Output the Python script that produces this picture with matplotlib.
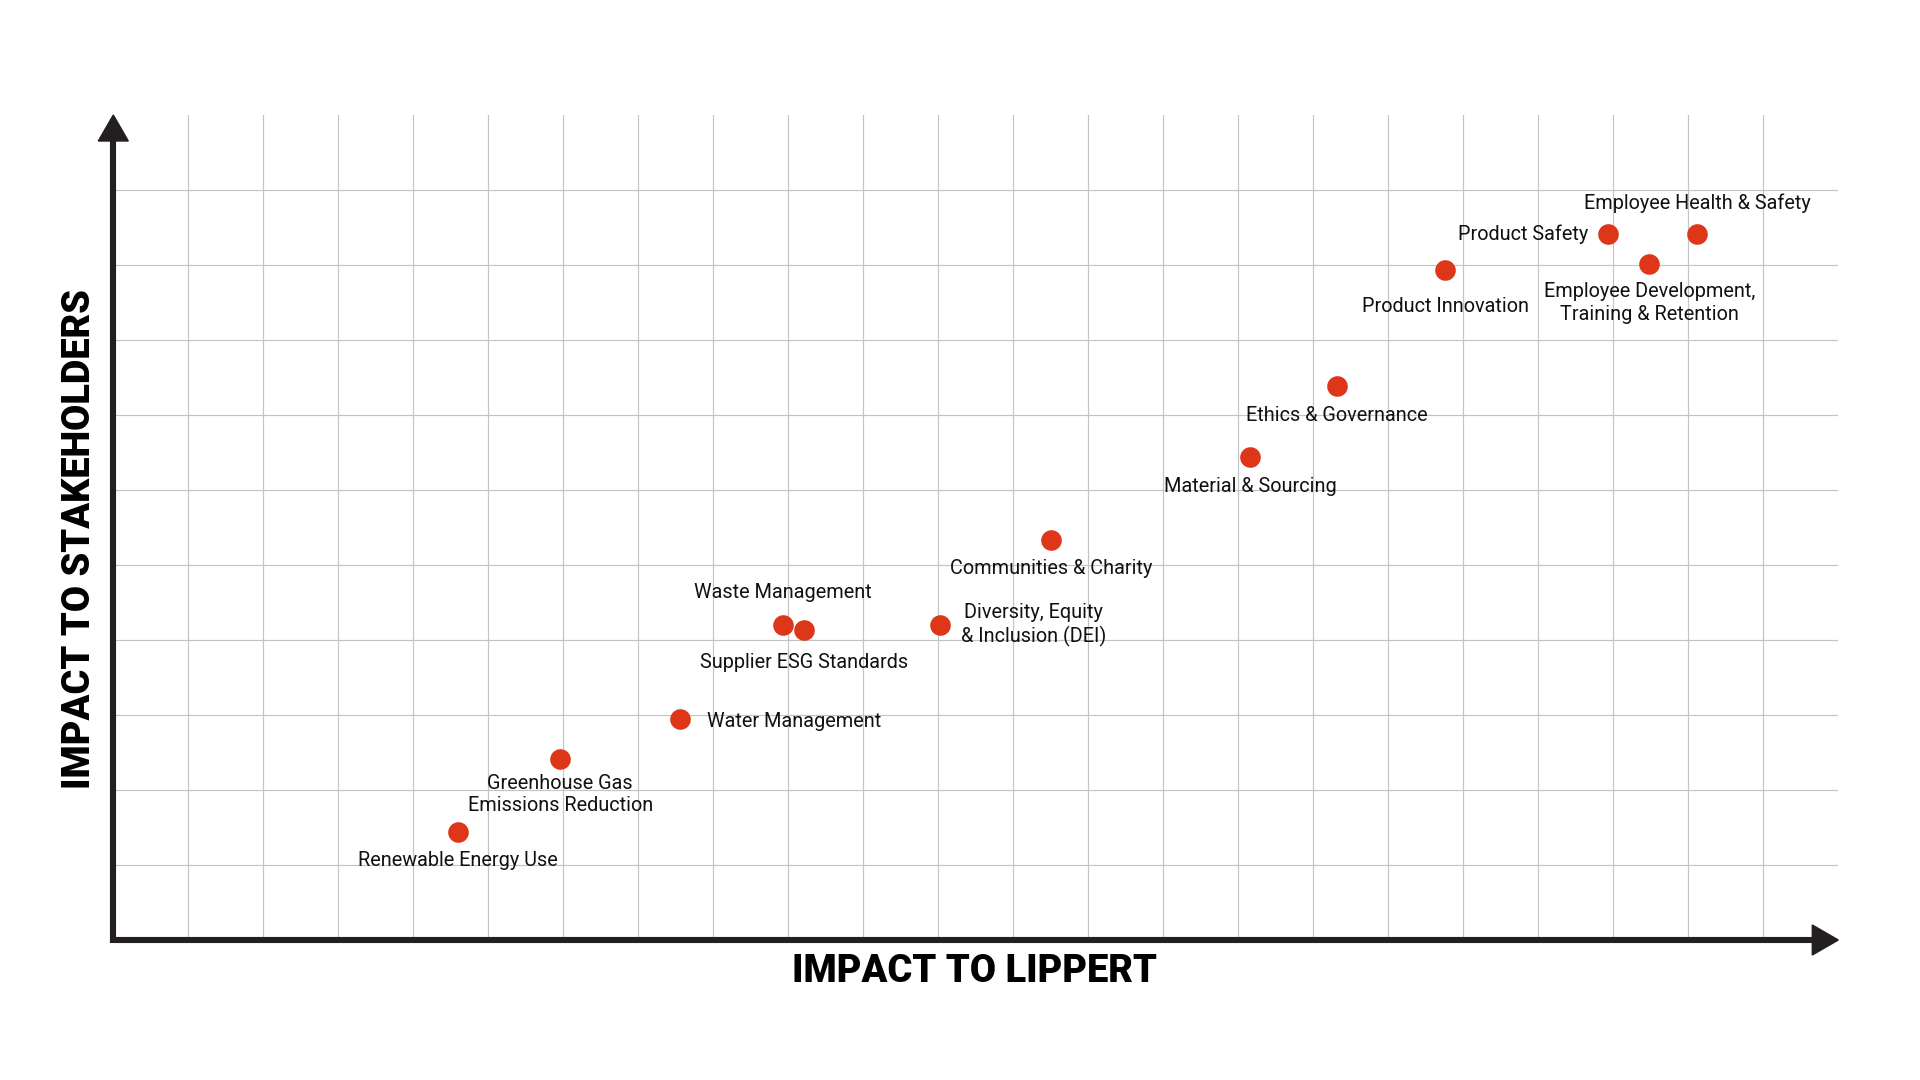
import matplotlib.pyplot as plt
from matplotlib.patches import Polygon

plt.rcParams['font.family'] = ['Roboto', 'DejaVu Sans']

# materiality topics, positions in grid cells
topics = [
    "Renewable Energy Use",
    "Greenhouse Gas\nEmissions Reduction",
    "Water Management",
    "Waste Management",
    "Supplier ESG Standards",
    "Diversity, Equity\n& Inclusion (DEI)",
    "Communities & Charity",
    "Material & Sourcing",
    "Ethics & Governance",
    "Product Innovation",
    "Product Safety",
    "Employee Health & Safety",
    "Employee Development,\nTraining & Retention",
]
impact_lippert = [4.59, 5.96, 7.55, 8.93, 9.21, 11.02, 12.50, 15.16, 16.32, 17.76, 19.93, 21.12, 20.48]
impact_stakeholders = [1.44, 2.42, 2.95, 4.20, 4.13, 4.20, 5.33, 6.44, 7.39, 8.93, 9.41, 9.41, 9.02]

# label placement: (dx px, dy px, ha)
label_pos = [
    (0, -28, 'center'),
    (0, -36, 'center'),
    (27, -3, 'left'),
    (0, 32, 'center'),
    (0, -32, 'center'),
    (21, 0, 'left'),
    (0, -28, 'center'),
    (0, -30, 'center'),
    (0, -30, 'center'),
    (0, -36.5, 'center'),
    (-20, 0, 'right'),
    (0, 31, 'center'),
    (0, -39.5, 'center'),
]

x_max, y_max = 23, 11
dot_color = '#DD3618'
axis_color = '#231F20'

fig = plt.figure(figsize=(19.2, 10.8), dpi=100)
ax = fig.add_axes([113.3 / 1920, 140 / 1080, 1725 / 1920, 825 / 1080])
ax.set_xlim(0, x_max)
ax.set_ylim(0, y_max)
ax.set_xticks(range(1, x_max))
ax.set_yticks(range(1, y_max))
ax.grid(True, color='#C4C4C4', lw=0.85)
ax.tick_params(length=0, labelbottom=False, labelleft=False)
for sp in ax.spines.values():
    sp.set_visible(False)

ax.scatter(impact_lippert, impact_stakeholders, s=220, color=dot_color, zorder=3, linewidths=0)

px = 0.72  # px -> points at 100 dpi
for name, x, y, (dx, dy, ha) in zip(topics, impact_lippert, impact_stakeholders, label_pos):
    ax.annotate(name, (x, y), xytext=(dx * px, dy * px), textcoords='offset points',
                ha=ha, va='center', multialignment='center', fontsize=14.3,
                color='#111111', linespacing=1.24, zorder=4)

# axes with arrow heads
hl_x, hw_x = 26 / 1725, 15 / 825
hl_y, hw_y = 26 / 825, 15 / 1725
ax.plot([0, 1 - hl_x], [0, 0], transform=ax.transAxes, color=axis_color, lw=4.4,
        clip_on=False, solid_capstyle='butt', zorder=5)
ax.plot([0, 0], [-3 / 825, 1 - hl_y], transform=ax.transAxes, color=axis_color, lw=4.4,
        clip_on=False, solid_capstyle='butt', zorder=5)
ax.add_patch(Polygon([[1 - hl_x, -hw_x], [1, 0], [1 - hl_x, hw_x]], closed=True,
                     transform=ax.transAxes, color=axis_color, clip_on=False, zorder=5))
ax.add_patch(Polygon([[-hw_y, 1 - hl_y], [0, 1], [hw_y, 1 - hl_y]], closed=True,
                     transform=ax.transAxes, color=axis_color, clip_on=False, zorder=5))

fig.text(975 / 1920, 1 - 971 / 1080, "IMPACT TO LIPPERT", ha='center', va='center',
         fontsize=27.4, fontweight='black', color='black')
fig.text(80 / 1920, 1 - 539.5 / 1080, "IMPACT TO STAKEHOLDERS", ha='center', va='center',
         rotation=90, fontsize=27.4, fontweight='black', color='black')

fig.savefig('out.png', dpi=100, facecolor='white')
